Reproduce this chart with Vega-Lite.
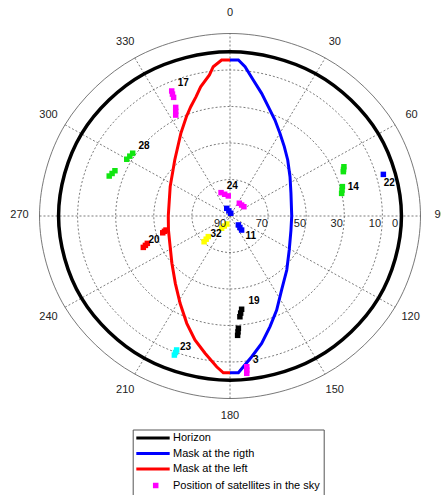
{
  "$schema": "https://vega.github.io/schema/vega-lite/v6.json",
  "width": 381,
  "height": 365,
  "autosize": {"type": "none"},
  "padding": {"left": 39.5, "top": 33.5, "right": 20.5, "bottom": 96.5},
  "background": "white",
  "config": {"view": {"stroke": null}, "font": "Liberation Sans"},
  "datasets": {
    "spokes": [
      {"x": 0, "y": -100, "x2": 0, "y2": 100},
      {"x": -50, "y": -86.6, "x2": 50, "y2": 86.6},
      {"x": -86.6, "y": -50, "x2": 86.6, "y2": 50},
      {"x": -100, "y": 0, "x2": 100, "y2": 0},
      {"x": -86.6, "y": 50, "x2": 86.6, "y2": -50},
      {"x": -50, "y": 86.6, "x2": 50, "y2": -86.6}
    ],
    "rings": [
      {"r": 20, "i": 0, "x": 0, "y": 20}, {"r": 20, "i": 1, "x": 10, "y": 17.32}, {"r": 20, "i": 2, "x": 17.32, "y": 10}, {"r": 20, "i": 3, "x": 20, "y": 0}, {"r": 20, "i": 4, "x": 17.32, "y": -10}, {"r": 20, "i": 5, "x": 10, "y": -17.32}, {"r": 20, "i": 6, "x": 0, "y": -20}, {"r": 20, "i": 7, "x": -10, "y": -17.32}, {"r": 20, "i": 8, "x": -17.32, "y": -10}, {"r": 20, "i": 9, "x": -20, "y": 0}, {"r": 20, "i": 10, "x": -17.32, "y": 10}, {"r": 20, "i": 11, "x": -10, "y": 17.32},
      {"r": 40, "i": 0, "x": 0, "y": 40}, {"r": 40, "i": 1, "x": 20, "y": 34.64}, {"r": 40, "i": 2, "x": 34.64, "y": 20}, {"r": 40, "i": 3, "x": 40, "y": 0}, {"r": 40, "i": 4, "x": 34.64, "y": -20}, {"r": 40, "i": 5, "x": 20, "y": -34.64}, {"r": 40, "i": 6, "x": 0, "y": -40}, {"r": 40, "i": 7, "x": -20, "y": -34.64}, {"r": 40, "i": 8, "x": -34.64, "y": -20}, {"r": 40, "i": 9, "x": -40, "y": 0}, {"r": 40, "i": 10, "x": -34.64, "y": 20}, {"r": 40, "i": 11, "x": -20, "y": 34.64},
      {"r": 60, "i": 0, "x": 0, "y": 60}, {"r": 60, "i": 1, "x": 30, "y": 51.96}, {"r": 60, "i": 2, "x": 51.96, "y": 30}, {"r": 60, "i": 3, "x": 60, "y": 0}, {"r": 60, "i": 4, "x": 51.96, "y": -30}, {"r": 60, "i": 5, "x": 30, "y": -51.96}, {"r": 60, "i": 6, "x": 0, "y": -60}, {"r": 60, "i": 7, "x": -30, "y": -51.96}, {"r": 60, "i": 8, "x": -51.96, "y": -30}, {"r": 60, "i": 9, "x": -60, "y": 0}, {"r": 60, "i": 10, "x": -51.96, "y": 30}, {"r": 60, "i": 11, "x": -30, "y": 51.96},
      {"r": 80, "i": 0, "x": 0, "y": 80}, {"r": 80, "i": 1, "x": 40, "y": 69.28}, {"r": 80, "i": 2, "x": 69.28, "y": 40}, {"r": 80, "i": 3, "x": 80, "y": 0}, {"r": 80, "i": 4, "x": 69.28, "y": -40}, {"r": 80, "i": 5, "x": 40, "y": -69.28}, {"r": 80, "i": 6, "x": 0, "y": -80}, {"r": 80, "i": 7, "x": -40, "y": -69.28}, {"r": 80, "i": 8, "x": -69.28, "y": -40}, {"r": 80, "i": 9, "x": -80, "y": 0}, {"r": 80, "i": 10, "x": -69.28, "y": 40}, {"r": 80, "i": 11, "x": -40, "y": 69.28}
    ],
    "outer": [
      {"i": 0, "x": 0, "y": 100}, {"i": 1, "x": 50, "y": 86.6}, {"i": 2, "x": 86.6, "y": 50}, {"i": 3, "x": 100, "y": 0}, {"i": 4, "x": 86.6, "y": -50}, {"i": 5, "x": 50, "y": -86.6}, {"i": 6, "x": 0, "y": -100}, {"i": 7, "x": -50, "y": -86.6}, {"i": 8, "x": -86.6, "y": -50}, {"i": 9, "x": -100, "y": 0}, {"i": 10, "x": -86.6, "y": 50}, {"i": 11, "x": -50, "y": 86.6}
    ],
    "horizon": [
      {"series": "Horizon", "i": 0, "x": 0, "y": 90}, {"series": "Horizon", "i": 1, "x": 45, "y": 77.94}, {"series": "Horizon", "i": 2, "x": 77.94, "y": 45}, {"series": "Horizon", "i": 3, "x": 90, "y": 0}, {"series": "Horizon", "i": 4, "x": 77.94, "y": -45}, {"series": "Horizon", "i": 5, "x": 45, "y": -77.94}, {"series": "Horizon", "i": 6, "x": 0, "y": -90}, {"series": "Horizon", "i": 7, "x": -45, "y": -77.94}, {"series": "Horizon", "i": 8, "x": -77.94, "y": -45}, {"series": "Horizon", "i": 9, "x": -90, "y": 0}, {"series": "Horizon", "i": 10, "x": -77.94, "y": 45}, {"series": "Horizon", "i": 11, "x": -45, "y": 77.94}
    ],
    "masks": [
      {"series": "Mask at the rigth", "i": 0, "x": 0, "y": 85.5},
      {"series": "Mask at the rigth", "i": 1, "x": 4.4, "y": 85.5},
      {"series": "Mask at the rigth", "i": 2, "x": 7.9, "y": 81.8},
      {"series": "Mask at the rigth", "i": 3, "x": 12.2, "y": 74.5},
      {"series": "Mask at the rigth", "i": 4, "x": 16.6, "y": 67.2},
      {"series": "Mask at the rigth", "i": 5, "x": 20.1, "y": 59.9},
      {"series": "Mask at the rigth", "i": 6, "x": 23.6, "y": 52.6},
      {"series": "Mask at the rigth", "i": 7, "x": 26.2, "y": 45.3},
      {"series": "Mask at the rigth", "i": 8, "x": 28.5, "y": 38.0},
      {"series": "Mask at the rigth", "i": 9, "x": 30.3, "y": 30.7},
      {"series": "Mask at the rigth", "i": 10, "x": 31.5, "y": 21.5},
      {"series": "Mask at the rigth", "i": 11, "x": 32.0, "y": 12.4},
      {"series": "Mask at the rigth", "i": 12, "x": 32.4, "y": 0},
      {"series": "Mask at the rigth", "i": 13, "x": 32.0, "y": -7.7},
      {"series": "Mask at the rigth", "i": 14, "x": 31.1, "y": -18.6},
      {"series": "Mask at the rigth", "i": 15, "x": 29.8, "y": -29.6},
      {"series": "Mask at the rigth", "i": 16, "x": 27.1, "y": -40.5},
      {"series": "Mask at the rigth", "i": 17, "x": 24.5, "y": -51.5},
      {"series": "Mask at the rigth", "i": 18, "x": 21.0, "y": -60.6},
      {"series": "Mask at the rigth", "i": 19, "x": 16.6, "y": -69.8},
      {"series": "Mask at the rigth", "i": 20, "x": 11.4, "y": -77.1},
      {"series": "Mask at the rigth", "i": 21, "x": 7.0, "y": -82.6},
      {"series": "Mask at the rigth", "i": 22, "x": 4.4, "y": -85.9},
      {"series": "Mask at the rigth", "i": 23, "x": 0, "y": -85.9},
      {"series": "Mask at the left", "i": 0, "x": 0, "y": 85.5},
      {"series": "Mask at the left", "i": 1, "x": -4.4, "y": 85.5},
      {"series": "Mask at the left", "i": 2, "x": -8.8, "y": 81.8},
      {"series": "Mask at the left", "i": 3, "x": -10.8, "y": 77.3},
      {"series": "Mask at the left", "i": 4, "x": -15.4, "y": 70.8},
      {"series": "Mask at the left", "i": 5, "x": -17.8, "y": 65.4},
      {"series": "Mask at the left", "i": 6, "x": -20.6, "y": 59.9},
      {"series": "Mask at the left", "i": 7, "x": -22.9, "y": 54.4},
      {"series": "Mask at the left", "i": 8, "x": -25.8, "y": 45.3},
      {"series": "Mask at the left", "i": 9, "x": -29.0, "y": 30.7},
      {"series": "Mask at the left", "i": 10, "x": -31.4, "y": 16.1},
      {"series": "Mask at the left", "i": 11, "x": -32.4, "y": 0},
      {"series": "Mask at the left", "i": 12, "x": -32.3, "y": -7.7},
      {"series": "Mask at the left", "i": 13, "x": -31.6, "y": -15.0},
      {"series": "Mask at the left", "i": 14, "x": -30.5, "y": -25.9},
      {"series": "Mask at the left", "i": 15, "x": -28.7, "y": -36.9},
      {"series": "Mask at the left", "i": 16, "x": -26.2, "y": -47.8},
      {"series": "Mask at the left", "i": 17, "x": -22.7, "y": -58.8},
      {"series": "Mask at the left", "i": 18, "x": -18.4, "y": -67.9},
      {"series": "Mask at the left", "i": 19, "x": -13.1, "y": -75.2},
      {"series": "Mask at the left", "i": 20, "x": -7.0, "y": -82.6},
      {"series": "Mask at the left", "i": 21, "x": -3.5, "y": -85.9},
      {"series": "Mask at the left", "i": 22, "x": 0, "y": -85.9}
    ],
    "sats": [
      {"sat": "17", "x": -30.6, "y": 68.5}, {"sat": "17", "x": -30.2, "y": 66.8}, {"sat": "17", "x": -29.6, "y": 65.0},
      {"sat": "17", "x": -28.5, "y": 59.5}, {"sat": "17", "x": -28.5, "y": 57.3}, {"sat": "17", "x": -28.5, "y": 55.3},
      {"sat": "28", "x": -51.1, "y": 34.4}, {"sat": "28", "x": -52.6, "y": 32.8}, {"sat": "28", "x": -54.2, "y": 31.1},
      {"sat": "28", "x": -60.4, "y": 24.8}, {"sat": "28", "x": -61.9, "y": 23.3}, {"sat": "28", "x": -63.4, "y": 21.9},
      {"sat": "14", "x": 59.8, "y": 27.0}, {"sat": "14", "x": 59.6, "y": 25.5}, {"sat": "14", "x": 59.5, "y": 24.3},
      {"sat": "14", "x": 59.0, "y": 16.1}, {"sat": "14", "x": 58.8, "y": 14.2}, {"sat": "14", "x": 58.6, "y": 12.4},
      {"sat": "22", "x": 80.5, "y": 22.8},
      {"sat": "24", "x": -4.7, "y": 12.8}, {"sat": "24", "x": -2.8, "y": 11.9}, {"sat": "24", "x": -0.9, "y": 11.0},
      {"sat": "24", "x": 4.9, "y": 7.0}, {"sat": "24", "x": 6.1, "y": 6.0}, {"sat": "24", "x": 7.3, "y": 5.1},
      {"sat": "11", "x": -1.7, "y": 4.2}, {"sat": "11", "x": -0.6, "y": 2.8}, {"sat": "11", "x": 0.4, "y": 1.5},
      {"sat": "11", "x": 4.4, "y": -4.9}, {"sat": "11", "x": 5.2, "y": -6.3}, {"sat": "11", "x": 6.1, "y": -7.7},
      {"sat": "32", "x": -1.7, "y": -4.4}, {"sat": "32", "x": -3.0, "y": -5.5}, {"sat": "32", "x": -4.4, "y": -6.7},
      {"sat": "32", "x": -11.4, "y": -11.3}, {"sat": "32", "x": -12.5, "y": -12.7}, {"sat": "32", "x": -13.6, "y": -14.1},
      {"sat": "20", "x": -45.5, "y": -17.2}, {"sat": "20", "x": -44.4, "y": -16.1}, {"sat": "20", "x": -43.4, "y": -15.0},
      {"sat": "20", "x": -35.3, "y": -9.2}, {"sat": "20", "x": -34.4, "y": -8.4}, {"sat": "20", "x": -33.6, "y": -7.7},
      {"sat": "19", "x": 6.1, "y": -51.1}, {"sat": "19", "x": 5.6, "y": -53.2}, {"sat": "19", "x": 5.2, "y": -55.2},
      {"sat": "19", "x": 4.4, "y": -61.5}, {"sat": "19", "x": 4.2, "y": -63.5}, {"sat": "19", "x": 4.0, "y": -65.4},
      {"sat": "23", "x": -28.0, "y": -73.4}, {"sat": "23", "x": -28.6, "y": -74.8}, {"sat": "23", "x": -29.2, "y": -76.2},
      {"sat": "3", "x": 8.8, "y": -82.6}, {"sat": "3", "x": 8.8, "y": -84.4}, {"sat": "3", "x": 8.8, "y": -86.2}
    ],
    "satlabels": [
      {"t": "17", "x": -24.5, "y": 72.7}, {"t": "28", "x": -45.1, "y": 38.4}, {"t": "14", "x": 64.7, "y": 16.1},
      {"t": "22", "x": 83.6, "y": 17.9}, {"t": "24", "x": 1.2, "y": 16.6}, {"t": "11", "x": 10.9, "y": -11.0},
      {"t": "32", "x": -7.3, "y": -9.9}, {"t": "20", "x": -39.9, "y": -13.2}, {"t": "19", "x": 12.6, "y": -46.6},
      {"t": "23", "x": -23.3, "y": -71.6}, {"t": "3", "x": 13.5, "y": -78.9}
    ],
    "azlabels": [
      {"t": "0", "x": 0, "y": 111}, {"t": "30", "x": 55, "y": 95.6}, {"t": "60", "x": 95.3, "y": 55.2},
      {"t": "90", "x": 110.5, "y": 0.5}, {"t": "120", "x": 94.8, "y": -55.2}, {"t": "150", "x": 55, "y": -95.2},
      {"t": "180", "x": 0, "y": -109.8}, {"t": "210", "x": -55, "y": -95.2}, {"t": "240", "x": -95.3, "y": -55.2},
      {"t": "270", "x": -110.5, "y": 0.5}, {"t": "300", "x": -95.3, "y": 55.2}, {"t": "330", "x": -55, "y": 95.6}
    ],
    "ellabels": [
      {"t": "90", "x": -5.2, "y": -4.4}, {"t": "70", "x": 16.7, "y": -4.4}, {"t": "50", "x": 36.7, "y": -4.4},
      {"t": "30", "x": 56.0, "y": -4.4}, {"t": "10", "x": 76.1, "y": -4.4}, {"t": "0", "x": 86.6, "y": -4.4}
    ]
  },
  "layer": [
    {
      "data": {"name": "spokes"},
      "mark": {"type": "rule", "strokeDash": [2, 2], "color": "#444", "strokeWidth": 0.7},
      "encoding": {
        "x": {"field": "x", "type": "quantitative", "scale": {"domain": [-100, 100], "nice": false, "zero": false}, "axis": null},
        "y": {"field": "y", "type": "quantitative", "scale": {"domain": [-100, 100], "nice": false, "zero": false}, "axis": null},
        "x2": {"field": "x2"},
        "y2": {"field": "y2"}
      }
    },
    {
      "data": {"name": "rings"},
      "mark": {"type": "line", "interpolate": "cardinal-closed", "strokeDash": [2, 2], "color": "#444", "strokeWidth": 0.7},
      "encoding": {
        "x": {"field": "x", "type": "quantitative"},
        "y": {"field": "y", "type": "quantitative"},
        "detail": {"field": "r", "type": "nominal"},
        "order": {"field": "i", "type": "quantitative"}
      }
    },
    {
      "data": {"name": "outer"},
      "mark": {"type": "line", "interpolate": "cardinal-closed", "color": "#555", "strokeWidth": 0.8},
      "encoding": {
        "x": {"field": "x", "type": "quantitative"},
        "y": {"field": "y", "type": "quantitative"},
        "order": {"field": "i", "type": "quantitative"}
      }
    },
    {
      "data": {"name": "horizon"},
      "mark": {"type": "line", "interpolate": "cardinal-closed", "strokeWidth": 3.5},
      "encoding": {
        "x": {"field": "x", "type": "quantitative"},
        "y": {"field": "y", "type": "quantitative"},
        "order": {"field": "i", "type": "quantitative"},
        "stroke": {
          "field": "series", "type": "nominal",
          "scale": {"domain": ["Horizon", "Mask at the rigth", "Mask at the left", "Position of satellites in the sky"], "range": ["#000000", "#0000ff", "#ff0000", "#ff00ff"]},
          "legend": {
            "title": null, "orient": "none", "legendX": 93.2, "legendY": 396,
            "padding": 3, "strokeColor": "#555", "fillColor": "white",
            "symbolSize": 64, "symbolStrokeWidth": 3, "symbolOffset": 11.8, "labelOffset": 14.5, "rowPadding": 2.5,
            "labelFont": "Liberation Sans", "labelFontSize": 11, "labelColor": "#000", "labelLimit": 300,
            "encode": {"symbols": {"update": {
              "shape": {"signal": "datum.value === 'Position of satellites in the sky' ? 'M0.36,-0.31H0.99V0.31H0.36Z' : 'M-4.17,0H4.17'"},
              "fill": {"signal": "datum.value === 'Position of satellites in the sky' ? '#ff00ff' : 'transparent'"}
            }}}
          }
        }
      }
    },
    {
      "data": {"name": "masks"},
      "mark": {"type": "line", "strokeWidth": 3},
      "encoding": {
        "x": {"field": "x", "type": "quantitative"},
        "y": {"field": "y", "type": "quantitative"},
        "order": {"field": "i", "type": "quantitative"},
        "stroke": {"field": "series", "type": "nominal"}
      }
    },
    {
      "data": {"name": "sats"},
      "mark": {"type": "square", "size": 30, "opacity": 1},
      "encoding": {
        "x": {"field": "x", "type": "quantitative"},
        "y": {"field": "y", "type": "quantitative"},
        "fill": {
          "field": "sat", "type": "nominal", "legend": null,
          "scale": {"domain": ["3", "11", "14", "17", "19", "20", "22", "23", "24", "28", "32"], "range": ["#ff00ff", "#0000ff", "#11e611", "#ff00ff", "#000000", "#ff0000", "#0000ff", "#00ffff", "#ff00ff", "#11e611", "#ffff00"]}
        }
      }
    },
    {
      "data": {"name": "satlabels"},
      "mark": {"type": "text", "font": "Liberation Sans", "fontSize": 10, "fontWeight": "bold", "color": "#000", "align": "center", "baseline": "middle"},
      "encoding": {
        "x": {"field": "x", "type": "quantitative"},
        "y": {"field": "y", "type": "quantitative"},
        "text": {"field": "t", "type": "nominal"}
      }
    },
    {
      "data": {"name": "azlabels"},
      "mark": {"type": "text", "font": "Liberation Sans", "fontSize": 11, "color": "#222", "align": "center", "baseline": "middle"},
      "encoding": {
        "x": {"field": "x", "type": "quantitative"},
        "y": {"field": "y", "type": "quantitative"},
        "text": {"field": "t", "type": "nominal"}
      }
    },
    {
      "data": {"name": "ellabels"},
      "mark": {"type": "text", "font": "Liberation Sans", "fontSize": 11, "color": "#222", "align": "center", "baseline": "middle"},
      "encoding": {
        "x": {"field": "x", "type": "quantitative"},
        "y": {"field": "y", "type": "quantitative"},
        "text": {"field": "t", "type": "nominal"}
      }
    }
  ]
}
